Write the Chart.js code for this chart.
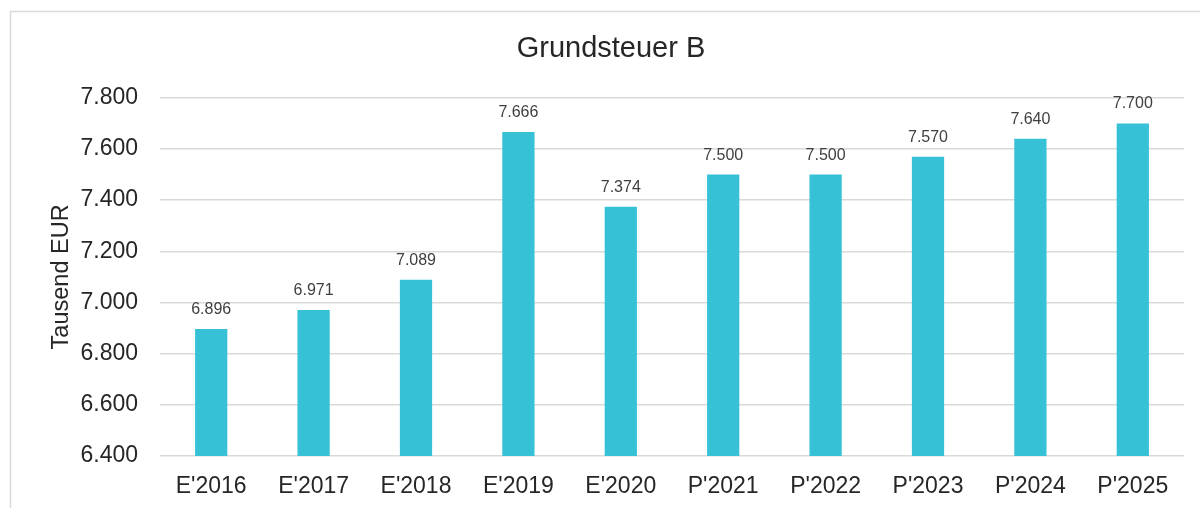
<!DOCTYPE html>
<html lang="de">
  <head>
    <meta charset="UTF-8" />
    <title>Grundsteuer B</title>
    <script src="https://cdn.jsdelivr.net/npm/chart.js"></script>
    <style>
      body {
        margin: 0;
        background: #fff;
      }
      .chart-container {
        width: 1200px;
        height: 508px;
      }
    </style>
  </head>
  <body>
    <div class="chart-container">
      <canvas id="barChart"></canvas>
    </div>

    <script>
      const categories = ["E'2016", "E'2017", "E'2018", "E'2019", "E'2020", "P'2021", "P'2022", "P'2023", "P'2024", "P'2025"];
      const values = [6896, 6971, 7089, 7666, 7374, 7500, 7500, 7570, 7640, 7700];
      const yTicks = [6400, 6600, 6800, 7000, 7200, 7400, 7600, 7800];

      const fmt = (v) => String(v).replace(/\B(?=(\d{3})+(?!\d))/g, ".");

      // Rahmen um das Diagramm
      const frame = {
        id: "frame",
        beforeDraw(chart) {
          const c = chart.ctx;
          c.save();
          c.fillStyle = "#fff";
          c.fillRect(0, 0, chart.width, chart.height);
          c.strokeStyle = "#d9d9d9";
          c.lineWidth = 1.5;
          c.strokeRect(10.5, 11.5, 1300, 600);
          c.restore();
        },
      };

      // Werte über den Balken
      const barLabels = {
        id: "barLabels",
        afterDatasetsDraw(chart) {
          const c = chart.ctx;
          const meta = chart.getDatasetMeta(0);
          c.save();
          c.font = "16px 'Liberation Sans', Arial, sans-serif";
          c.fillStyle = "#404040";
          c.textAlign = "center";
          c.textBaseline = "alphabetic";
          meta.data.forEach((bar, i) => {
            c.fillText(fmt(values[i]), bar.x, bar.y - 15);
          });
          c.restore();
        },
      };

      const ctx = document.getElementById("barChart").getContext("2d");

      new Chart(ctx, {
        type: "bar",
        data: {
          labels: categories,
          datasets: [
            {
              data: values,
              backgroundColor: "#37c1d6",
              categoryPercentage: 1,
              barPercentage: 0.315,
            },
          ],
        },
        options: {
          responsive: true,
          maintainAspectRatio: false,
          animation: false,
          layout: { padding: { left: 38, right: 16, top: 0, bottom: 0 } },
          plugins: {
            legend: { display: false },
            tooltip: { enabled: false },
            title: {
              display: true,
              text: "Grundsteuer B",
              color: "#262626",
              font: { family: "'Liberation Sans', Arial, sans-serif", size: 29, weight: "normal" },
              padding: { top: 32, bottom: 31 },
            },
          },
          scales: {
            x: {
              grid: { display: false },
              border: { display: false },
              ticks: {
                color: "#262626",
                font: { family: "'Liberation Sans', Arial, sans-serif", size: 23 },
                padding: 9,
                maxRotation: 0,
              },
              afterFit: (scale) => {
                scale.height = 52;
              },
            },
            y: {
              min: 6400,
              max: 7800,
              afterBuildTicks: (scale) => {
                scale.ticks = yTicks.map((v) => ({ value: v }));
              },
              grid: { color: "#d9d9d9", lineWidth: 1.5, drawTicks: false },
              border: { display: false },
              ticks: {
                color: "#262626",
                font: { family: "'Liberation Sans', Arial, sans-serif", size: 23 },
                padding: 22,
                callback: (v) => fmt(v),
              },
              title: {
                display: true,
                text: "Tausend EUR",
                color: "#262626",
                font: { family: "'Liberation Sans', Arial, sans-serif", size: 23.5 },
                padding: { top: 9, bottom: 0 },
              },
              afterFit: (scale) => {
                scale.width = 122;
              },
            },
          },
        },
        plugins: [frame, barLabels],
      });
    </script>
  </body>
</html>
